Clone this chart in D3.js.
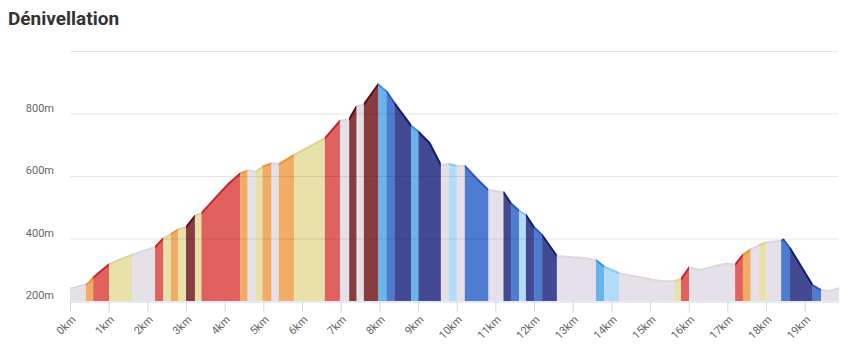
<!DOCTYPE html>
<html>
<head>
<meta charset="utf-8">
<script src="https://cdn.jsdelivr.net/npm/d3@7"></script>
<style>
  body { margin: 0; background: #fff; font-family: Roboto, "Open Sans", sans-serif; }
  #chart svg { display: block; }
</style>
</head>
<body>
<div id="chart"></div>
<script>
// profile: distance (km) / elevation (m)
const distances = [0, 0.15, 0.3, 0.41, 0.5, 0.6, 0.8, 1.01, 1.3, 1.6, 1.9, 2.2, 2.41, 2.61, 2.8, 3.0, 3.23, 3.4,
  3.79, 4.1, 4.4, 4.61, 4.7, 4.8, 4.98, 5.21, 5.3, 5.4, 5.79, 6.2, 6.59, 6.98, 7.22, 7.41, 7.6, 7.97, 8.19, 8.39,
  8.6, 8.82, 9.01, 9.3, 9.59, 9.8, 10.0, 10.21, 10.5, 10.82, 11.0, 11.21, 11.4, 11.61, 11.79, 12.0, 12.21, 12.59,
  13.0, 13.3, 13.6, 13.81, 14.2, 14.5, 15.0, 15.3, 15.63, 15.8, 16.01, 16.3, 16.8, 17.0, 17.2, 17.4, 17.6, 17.82,
  18.0, 18.39, 18.45, 18.62, 19.2, 19.42, 19.65, 19.89]
const elevations = [240, 244, 250, 252, 260, 275, 296, 317, 333, 347, 360, 372, 400, 414, 429, 436, 472, 481,
  534, 575, 608, 618, 616, 613, 630, 640, 641, 638, 667, 695, 720, 776, 782, 822, 829, 893, 870, 833,
  798, 761, 742, 705, 635, 638, 632, 632, 594, 555, 552, 548, 513, 489, 475, 436, 411, 344,
  340, 338, 331, 310, 289, 282, 270, 263, 264, 269, 307, 299, 315, 320, 316, 347, 365, 379,
  387, 393, 397, 369, 251, 235, 232, 241]

// slope zones: end of each zone (km) and its class
const zoneEnds = [0.41, 0.6, 1.01, 1.6, 2.2, 2.41, 2.61, 2.8, 3.0, 3.23, 3.4, 4.4, 4.59, 4.8, 4.98, 5.21, 5.4, 5.79,
  6.59, 6.98, 7.22, 7.41, 7.6, 7.97, 8.19, 8.39, 8.82, 9.01, 9.59, 9.8, 10.0, 10.21, 10.82, 11.21, 11.4, 11.61,
  11.79, 12.0, 12.21, 12.59, 13.6, 13.81, 14.2, 15.63, 15.8, 16.01, 17.2, 17.4, 17.6, 17.82, 18.0, 18.39, 18.62,
  19.2, 19.42, 19.89]
const zoneTypes = ["flat", "up5", "up8", "up2", "flat", "up8", "up2", "up5", "up2", "up12", "up2", "up8", "up5", "flat",
  "up2", "up5", "flat", "up5", "up2", "up8", "flat", "up12", "flat", "up12", "down5", "down8", "down12", "down5",
  "down12", "flat", "down2", "flat", "down8", "flat", "down12", "down8", "down2", "down12", "down8", "down12",
  "flat", "down5", "down2", "flat", "up2", "up8", "flat", "up8", "up5", "flat", "up2", "flat", "down8",
  "down12", "down8", "flat"]

const yTicks = [200, 400, 600, 800, 1000]
const xTicks = d3.range(0, 20)

const fills = {
  flat: "#e6e1e9", up2: "#e8e1aa", up5: "#f1ac66", up8: "#e0615e", up12: "#873d40",
  down2: "#b3dcf8", down5: "#6bb3eb", down8: "#4f7bd1", down12: "#434a93"
}
const strokes = {
  flat: "#dcd6e0", up2: "#e0d28e", up5: "#ec9440", up8: "#c8242a", up12: "#5a0c10",
  down2: "#8cc8f0", down5: "#3c93dc", down8: "#2b56bf", down12: "#0f1f6b"
}

const width = 844
const height = 361
const margin = {top: 51, right: 6, bottom: 60, left: 70}

const svg = d3.select("#chart").append("svg")
  .attr("width", width)
  .attr("height", height)

svg.append("text")
  .attr("x", 8)
  .attr("y", 25)
  .attr("font-size", 19)
  .attr("font-weight", "bold")
  .attr("fill", "#333")
  .text("Dénivellation")

const x = d3.scaleLinear().domain([0, 19.86]).range([margin.left, width - margin.right])
const y = d3.scaleLinear().domain([200, 1000]).range([height - margin.bottom, margin.top])

const points = distances.map((d, i) => [d, elevations[i]])

const area = d3.area()
  .x(d => x(d[0]))
  .y0(y(200))
  .y1(d => y(d[1]))
const line = d3.line()
  .x(d => x(d[0]))
  .y(d => y(d[1]))

const defs = svg.append("defs")
const zones = svg.append("g")

zoneEnds.forEach((end, i) => {
  const start = i === 0 ? 0 : zoneEnds[i - 1]
  const type = zoneTypes[i]
  defs.append("clipPath")
    .attr("id", "zone" + i)
    .append("rect")
    .attr("x", x(start))
    .attr("y", 0)
    .attr("width", x(end) - x(start) + 0.3)
    .attr("height", height)
  const g = zones.append("g").attr("clip-path", "url(#zone" + i + ")")
  g.append("path")
    .attr("d", area(points))
    .attr("fill", fills[type])
  g.append("path")
    .attr("d", line(points))
    .attr("fill", "none")
    .attr("stroke", strokes[type])
    .attr("stroke-width", 2)
})

// grid lines over the areas, faint
svg.append("g")
  .selectAll("line")
  .data(yTicks.slice(1))
  .enter()
  .append("line")
  .attr("x1", margin.left)
  .attr("x2", width - margin.right)
  .attr("y1", d => y(d) + 0.5)
  .attr("y2", d => y(d) + 0.5)
  .attr("stroke", "#000")
  .attr("stroke-opacity", 0.1)

svg.append("g")
  .selectAll("text")
  .data(yTicks.slice(0, 4))
  .enter()
  .append("text")
  .attr("x", 54)
  .attr("y", d => y(d) - 2)
  .attr("text-anchor", "end")
  .attr("font-size", 11)
  .attr("fill", "#666")
  .text(d => d + "m")

const xAxis = svg.append("g")
  .attr("transform", "translate(0," + (y(200) + 0.5) + ")")
  .call(d3.axisBottom(x).tickValues(xTicks).tickSize(10).tickSizeOuter(0).tickFormat(d => d + "km"))
xAxis.select(".domain").attr("stroke", "#ccd6eb")
xAxis.selectAll(".tick line").attr("stroke", "#ccd6eb")
xAxis.selectAll(".tick text")
  .attr("font-family", "Roboto, sans-serif")
  .attr("font-size", 11)
  .attr("fill", "#666")
  .attr("text-anchor", "end")
  .attr("dy", "0.35em")
  .attr("transform", "translate(3,16) rotate(-45)")
  .attr("y", 0)
</script>
</body>
</html>
